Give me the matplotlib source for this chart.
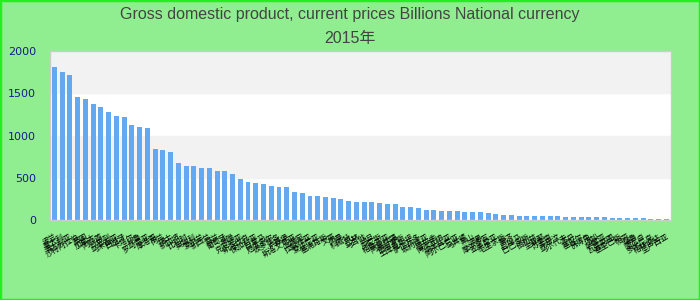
import matplotlib
matplotlib.use("Agg")
from matplotlib import pyplot as plt
import numpy as np

# chart text
title_line1 = "Gross domestic product, current prices Billions National currency"
title_line2 = "2015年"

# country labels (rendered as tofu in the reference, names estimated)
countries = [
    "波兰", "意大利", "澳大利亚", "沙特阿拉伯", "英国", "加拿大", "阿联酋", "以色列",
    "马来西亚", "西班牙", "卡塔尔", "秘鲁", "罗马尼亚", "摩洛哥", "荷兰", "瑞士",
    "新加坡", "比利时", "奥地利", "爱尔兰", "新西兰", "芬兰", "葡萄牙", "希腊",
    "克罗地亚", "斯洛伐克", "保加利亚", "巴拿马", "厄瓜多尔", "波多黎各", "卢森堡", "斯洛文尼亚",
    "立陶宛", "拉脱维亚", "爱沙尼亚", "塞浦路斯", "文莱", "阿曼", "科威特", "巴林",
    "马耳他", "约旦", "突尼斯", "格鲁吉亚", "阿塞拜疆", "白俄罗斯", "土库曼斯坦", "萨尔瓦多",
    "玻利维亚", "巴拉圭", "博茨瓦纳", "纳米比亚", "阿尔巴尼亚", "马其顿", "黑山", "波黑",
    "摩尔多瓦", "亚美尼亚", "毛里求斯", "斐济", "巴哈马", "巴巴多斯", "伯利兹", "圭亚那",
    "苏里南", "东帝汶", "马尔代夫", "不丹", "塞舌尔", "佛得角", "汤加", "萨摩亚",
    "瓦努阿图", "基里巴斯", "帕劳", "瑙鲁", "图瓦卢", "多米尼克", "格林纳达", "圣卢西亚",
]

gdp_values = [
    1806, 1746, 1711, 1461, 1437, 1378, 1342, 1283, 1236, 1224,
    1129, 1105, 1093, 843, 832, 808, 677, 642, 642, 618,
    618, 582, 582, 546, 487, 451, 440, 428, 404, 392,
    392, 333, 321, 285, 285, 273, 261, 249, 226, 214,
    214, 214, 202, 190, 190, 154, 154, 143, 119, 119,
    107, 107, 107, 95, 95, 95, 83, 71, 59, 59,
    48, 48, 48, 48, 48, 48, 36, 36, 36, 36,
    36, 36, 24, 24, 24, 24, 24, 12, 12, 12,
]

y_ticks = [0, 500, 1000, 1500, 2000]

fig = plt.figure(figsize=(7, 3), dpi=100, facecolor="#90ee90")
fig.patches.append(plt.Rectangle((0, 0), 1, 1, transform=fig.transFigure,
                                 fill=False, edgecolor="#22ee22", linewidth=2.5))

ax = fig.add_axes([50 / 700, 80 / 300, 621 / 700, 169 / 300])
ax.set_facecolor("white")

# alternating bands
for lo in (500, 1500):
    ax.axhspan(lo, lo + 500, color="#f2f2f2", zorder=0)

x = np.arange(len(gdp_values))
ax.bar(x, gdp_values, width=0.64, color="#63a9f1", zorder=2)

ax.set_xlim(-0.56, len(gdp_values) - 0.4)
ax.set_ylim(0, 2000)
ax.set_yticks(y_ticks)
ax.set_yticklabels([str(v) for v in y_ticks], color="#1a1a8c", fontsize=8,
                   family="DejaVu Sans")
ax.tick_params(axis="y", length=0, pad=10)

ax.set_xticks(x)
ax.set_xticklabels(countries, rotation=30, ha="right", rotation_mode="anchor",
                   fontsize=5.5, family=["Noto Sans CJK SC", "DejaVu Sans"])
ax.tick_params(axis="x", length=0, pad=9)

for s in ax.spines.values():
    s.set_color("#cccccc")
    s.set_linewidth(1)

fig.text(0.5, 1 - 14 / 300, title_line1, ha="center", va="center",
         fontsize=11.5, color="#444444", family=["Liberation Sans", "Noto Sans CJK SC"])
fig.text(0.5, 1 - 38 / 300, title_line2, ha="center", va="center",
         fontsize=11.5, color="#444444", family=["Liberation Sans", "Noto Sans CJK SC"])

fig.savefig("out.png", dpi=100, facecolor=fig.get_facecolor())
